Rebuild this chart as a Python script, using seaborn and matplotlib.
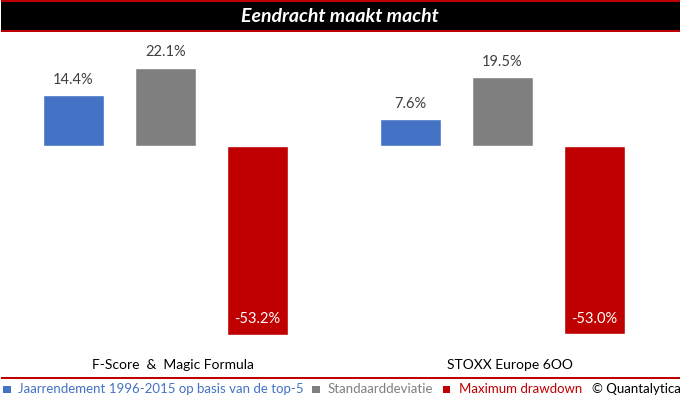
import pandas as pd
import seaborn as sns
import matplotlib.pyplot as plt
from matplotlib.patches import Rectangle
from matplotlib.transforms import ScaledTranslation

# Data
categories = ["F-Score  &  Magic Formula", "STOXX Europe 6OO"]
series_names = ["Jaarrendement 1996-2015 op basis van de top-5",
                "Standaarddeviatie", "Maximum drawdown"]
jaarrendement = [14.4, 7.6]
standaarddeviatie = [22.1, 19.5]
max_drawdown = [-53.2, -53.0]

colors = ["#4472C4", "#7F7F7F", "#C00000"]

sns.set_theme(style="white")
plt.rcParams['font.family'] = ['Lato', 'DejaVu Sans']

data = pd.DataFrame({
    "categorie": categories * 3,
    "reeks": [series_names[0]] * 2 + [series_names[1]] * 2 + [series_names[2]] * 2,
    "waarde": jaarrendement + standaarddeviatie + max_drawdown,
})

W, H = 681, 399
fig = plt.figure(figsize=(W / 100, H / 100), dpi=100)
fig.patch.set_facecolor("white")

# plot area: y from 45px to 340px, full width
ax = fig.add_axes([0, (H - 340) / H, 1, 295 / H])
sns.barplot(data=data, x="categorie", y="waarde", hue="reeks",
            palette=colors, width=0.82, gap=0.338, legend=False,
            saturation=1, ax=ax)

unit = 337.0
ax.set_xlim(-165.5 / unit, (W - 165.5) / unit)
scale = 3.545
ax.set_ylim(-(340 - 146) / scale, (146 - 45) / scale)

for spine in ax.spines.values():
    spine.set_visible(False)
ax.set_yticks([])
ax.set_xlabel("")
ax.set_ylabel("")
ax.tick_params(axis="x", length=0, pad=14, labelsize=10, labelcolor="black")
for lbl in ax.get_xticklabels():
    lbl.set_transform(lbl.get_transform() + ScaledTranslation(0.07, 0, fig.dpi_scale_trans))

# value labels
for i, cont in enumerate(ax.containers):
    for bar in cont:
        h = bar.get_height()
        xc = bar.get_x() + bar.get_width() / 2
        col = "white" if h < 0 else "#404040"
        ax.annotate(f"{h:.1f}%", (xc, h), xytext=(0, 11), textcoords="offset points",
                    ha="center", va="center", fontsize=10.5, color=col)

# title bar
def px_rect(x0, y0, x1, y1, color):
    fig.add_artist(Rectangle((x0 / W, 1 - y1 / H), (x1 - x0) / W, (y1 - y0) / H,
                             transform=fig.transFigure, facecolor=color,
                             edgecolor="none", zorder=0))

px_rect(1, 0, 680, 32, "#C00000")
px_rect(1, 2, 680, 30, "black")
fig.text(339.5 / W, 1 - 16 / H, "Eendracht maakt macht", color="white",
         fontsize=14, fontweight="bold", fontstyle="italic", ha="center", va="center")

# legend line
px_rect(1, 377, 680, 379, "#C00000")

ly = 1 - 389 / H
legend_items = [(3, 18, series_names[0], colors[0]),
                (312, 328, series_names[1], colors[1]),
                (443, 459, series_names[2], colors[2])]
for sx, tx, name, c in legend_items:
    px_rect(sx, 385.5, sx + 7.5, 393, c)
    fig.text(tx / W, ly, name, color=c, fontsize=9.5, ha="left", va="center")
fig.text(592 / W, ly, "© Quantalytica", color="black", fontsize=9.5, ha="left", va="center")

fig.savefig("out.png", dpi=100)
